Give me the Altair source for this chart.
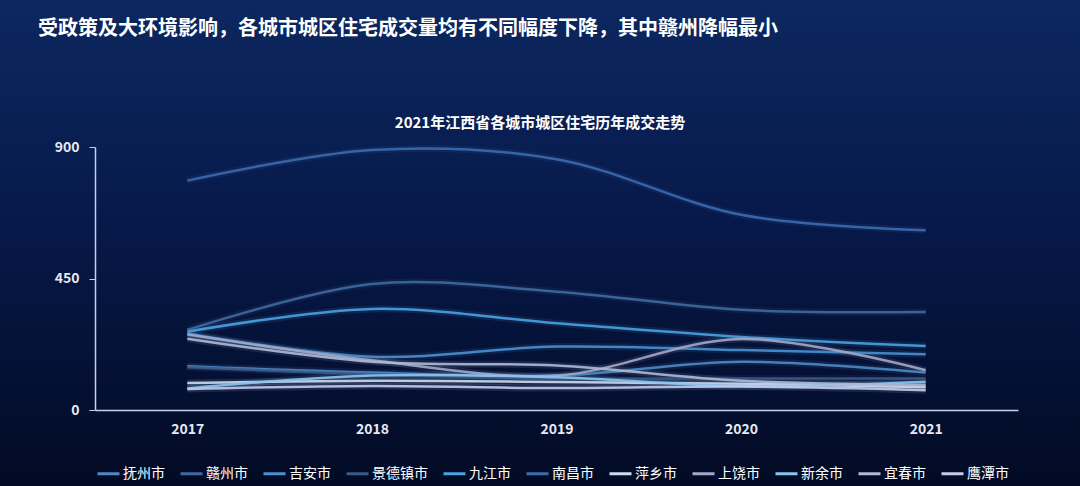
import altair as alt
import pandas as pd

years = [2017, 2018, 2019, 2020, 2021]
cities = ["抚州市", "赣州市", "吉安市", "景德镇市", "九江市", "南昌市",
          "萍乡市", "上饶市", "新余市", "宜春市", "鹰潭市"]

fuzhou = [150, 128, 118, 165, 128]
ganzhou = [274, 431, 405, 343, 335]
jian = [262, 182, 217, 205, 191]
jingdezhen = [146, 122, 108, 108, 108]
jiujiang = [268, 346, 297, 250, 219]
nanchang = [785, 890, 858, 668, 615]
pingxiang = [92, 100, 96, 90, 78]
shangrao = [258, 170, 118, 243, 136]
xinyu = [74, 118, 112, 82, 97]
yichun = [244, 165, 152, 100, 86]
yingtan = [72, 82, 75, 80, 68]

series = [fuzhou, ganzhou, jian, jingdezhen, jiujiang, nanchang,
          pingxiang, shangrao, xinyu, yichun, yingtan]

colors = ["#4f88c6", "#3f6a9e", "#4a90d0", "#3b5a88", "#4aa2e2", "#3d6cae",
          "#cddcf2", "#a4a8c8", "#8cc4f0", "#aebad8", "#c4cbee"]

y_ticks = [0, 450, 900]

rows = []
for c, vals in zip(cities, series):
    for yr, v in zip(years, vals):
        rows.append({"城市": c, "年份": yr, "成交量": v})
df = pd.DataFrame(rows)

main_title = "受政策及大环境影响，各城市城区住宅成交量均有不同幅度下降，其中赣州降幅最小"
sub_title = "2021年江西省各城市城区住宅历年成交走势"

FONT = "Noto Sans CJK SC"

bg = alt.Chart(pd.DataFrame({"a": [0]})).mark_rect(
    color=alt.Gradient(
        gradient="linear", x1=0, y1=0, x2=0, y2=1,
        stops=[alt.GradientStop(color="#0c2860", offset=0),
               alt.GradientStop(color="#07194a", offset=0.45),
               alt.GradientStop(color="#020b24", offset=1)]
    )
).encode(x=alt.value(-95), x2=alt.value(985), y=alt.value(-147), y2=alt.value(339))

x_enc = alt.X("年份:Q", scale=alt.Scale(domain=[2016.5, 2021.5], nice=False, zero=False),
              axis=alt.Axis(values=years, format="d", title=None, grid=False, ticks=False,
                            domainColor="#c8cdee", domainWidth=1.5, zindex=2,
                            labelColor="#e6e9f4", labelFontSize=14, labelFontWeight="bold",
                            labelFont=FONT, labelPadding=12))
y_enc = alt.Y("成交量:Q", scale=alt.Scale(domain=[0, 900], nice=False),
              axis=alt.Axis(values=y_ticks, title=None, grid=False, ticks=True, tickSize=6,
                            tickColor="#c8cdee", domainColor="#c8cdee", domainWidth=1.5, zindex=2,
                            labelColor="#e6e9f4", labelFontSize=14, labelFontWeight="bold",
                            labelFont=FONT, labelPadding=10))
color_enc = alt.Color("城市:N", scale=alt.Scale(domain=cities, range=colors), sort=cities,
                      legend=alt.Legend(orient="none", legendX=1, legendY=314,
                                        direction="horizontal", title=None, zindex=2,
                                        symbolType="stroke", symbolSize=484,
                                        symbolStrokeWidth=3, symbolOpacity=1,
                                        labelColor="#ffffff",
                                        labelFont=FONT, labelFontSize=14, labelOffset=2,
                                        columnPadding=9))

lines = alt.Chart(df).mark_line(interpolate="catmull-rom", strokeWidth=2.5, opacity=0.9).encode(
    x=x_enc, y=y_enc, color=color_enc, detail="城市:N")
glow = alt.Chart(df).mark_line(interpolate="catmull-rom", strokeWidth=7, opacity=0.12).encode(
    x=x_enc, y=y_enc, color=color_enc, detail="城市:N")

t1 = alt.Chart(pd.DataFrame({"t": [main_title]})).mark_text(
    align="left", baseline="middle", font=FONT, fontSize=20, fontWeight="bold", color="#ffffff"
).encode(text="t:N", x=alt.value(-57), y=alt.value(-118))
t2 = alt.Chart(pd.DataFrame({"t": [sub_title]})).mark_text(
    align="center", baseline="middle", font=FONT, fontSize=15, fontWeight="bold", color="#ffffff"
).encode(text="t:N", x=alt.value(445), y=alt.value(-24))

chart = alt.layer(bg, glow, lines, t1, t2).properties(
    width=923, height=263,
    autosize=alt.AutoSizeParams(type="none"),
    padding={"left": 95, "top": 147, "right": 62, "bottom": 76},
    background="#020b24",
).configure_view(stroke=None)

chart.save("out.html", embed_options={"renderer": "svg", "actions": False})
